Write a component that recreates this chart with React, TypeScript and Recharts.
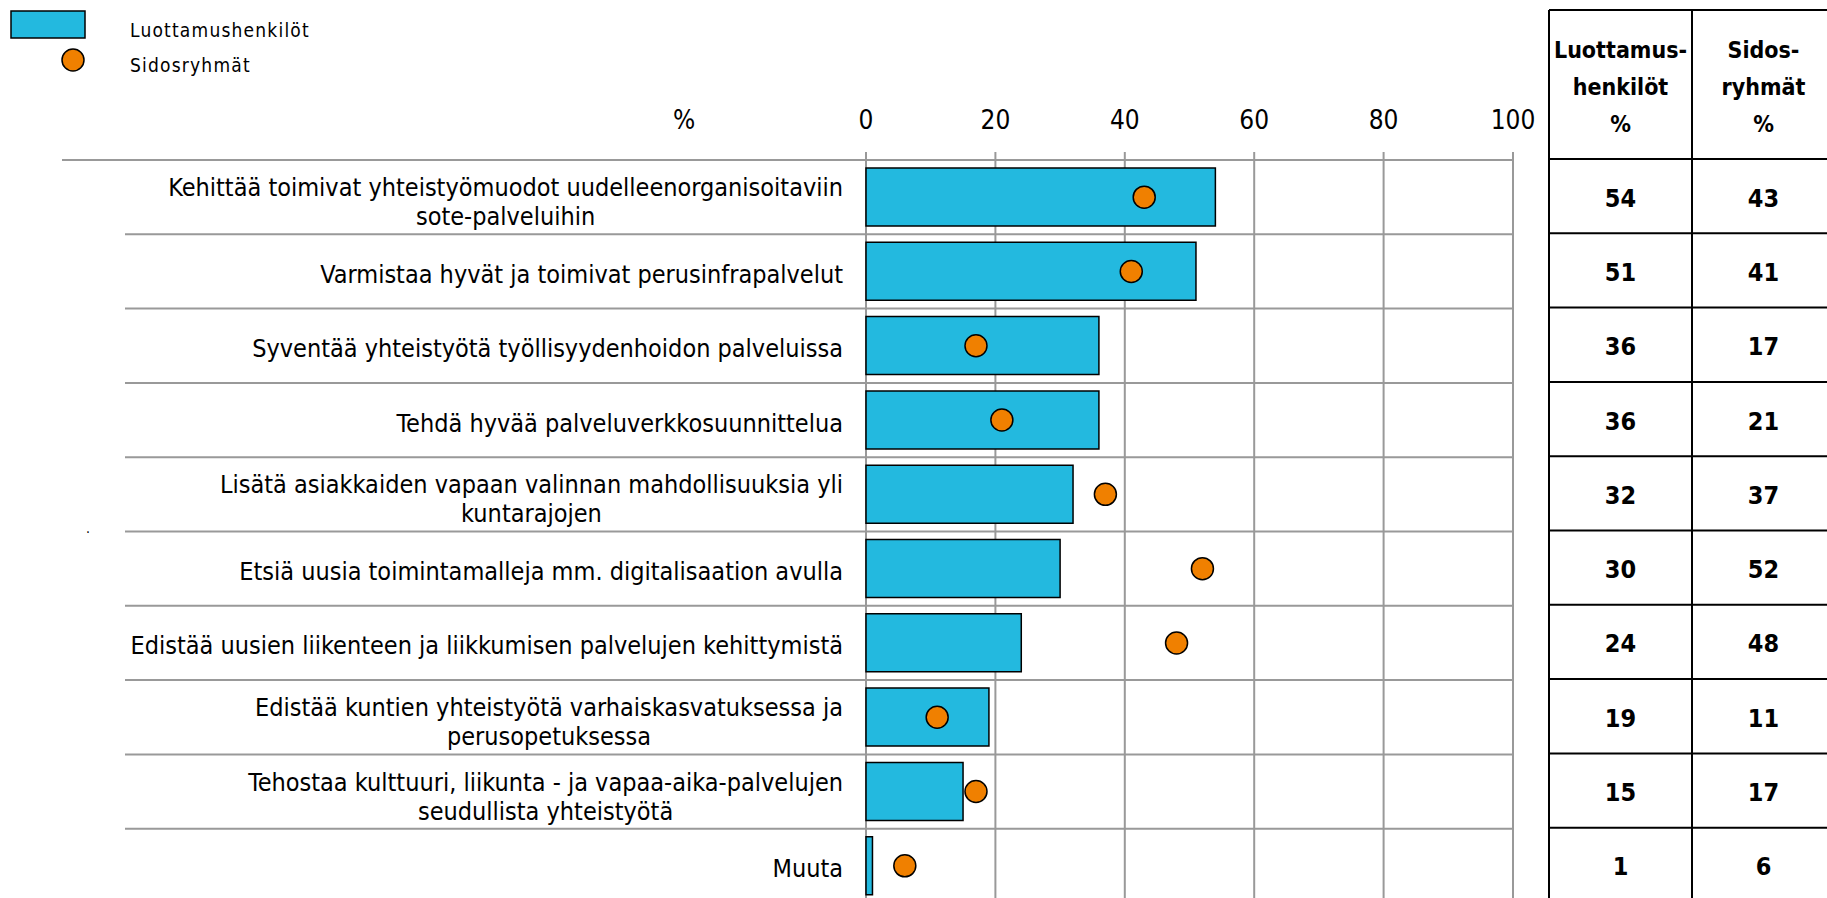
import { Bar, CartesianGrid, ComposedChart, Legend, Line, XAxis, YAxis } from 'recharts';

const categories = [
	'Kehittää toimivat yhteistyömuodot uudelleenorganisoitaviin\nsote-palveluihin',
	'Varmistaa hyvät ja toimivat perusinfrapalvelut',
	'Syventää yhteistyötä työllisyydenhoidon palveluissa',
	'Tehdä hyvää palveluverkkosuunnittelua',
	'Lisätä asiakkaiden vapaan valinnan mahdollisuuksia yli\nkuntarajojen',
	'Etsiä uusia toimintamalleja mm. digitalisaation avulla',
	'Edistää uusien liikenteen ja liikkumisen palvelujen kehittymistä',
	'Edistää kuntien yhteistyötä varhaiskasvatuksessa ja\nperusopetuksessa',
	'Tehostaa kulttuuri, liikunta - ja vapaa-aika-palvelujen\nseudullista yhteistyötä',
	'Muuta',
];
const luottamus = [54, 51, 36, 36, 32, 30, 24, 19, 15, 1];
const sidos = [43, 41, 17, 21, 37, 52, 48, 11, 17, 6];
const xTicks = [0, 20, 40, 60, 80, 100];
const seriesNames = ['Luottamushenkilöt', 'Sidosryhmät'];
const tableHeaders = [
	['Luottamus-', 'henkilöt', '%'],
	['Sidos-', 'ryhmät', '%'],
];

const data = categories.map((name, i) => ({ name, luottamus: luottamus[i], sidos: sidos[i] }));

const W = 1827;
const H = 898;
const PLOT_LEFT = 866;
const PLOT_RIGHT = 1513;
const PLOT_TOP = 160;
const ROW_H = 74.3;
const PLOT_H = ROW_H * categories.length;
const LABEL_RIGHT = 843;
const FONT = "'Liberation Sans Narrow', 'DejaVu Sans Condensed', 'Open Sans', sans-serif";
const LABEL_SIZE = 25;
const TICK_SIZE = 26;
const GRID = '#999999';
const BLUE = '#23B9DF';
const ORANGE = '#F08000';

// table columns
const T_LEFT = 1549;
const T_MID = 1692;
const T_RIGHT = 1835;
const T_TOP = 10;

let ctx: CanvasRenderingContext2D | null = null;
const measure = (t: string) => {
	if (!ctx) ctx = document.createElement('canvas').getContext('2d');
	if (!ctx) return t.length * LABEL_SIZE * 0.45;
	ctx.font = `${LABEL_SIZE}px ${FONT}`;
	return ctx.measureText(t).width;
};

const CategoryTick = (props: any) => {
	const { y, payload, index } = props;
	const lines: string[] = String(payload.value).split('\n');
	const block = Math.max(...lines.map(measure));
	const cx = LABEL_RIGHT - block / 2;
	const top = y - ROW_H / 2;
	const shift = lines.length > 1 ? 5 : 3;
	return (
		<g>
			<line x1={index === 0 ? 62 : 125} x2={PLOT_LEFT} y1={top} y2={top} stroke={GRID} strokeWidth={2} />
			{lines.map((l, i) => (
				<text
					key={i}
					x={lines.length > 1 ? cx : LABEL_RIGHT}
					y={y + shift + (i - (lines.length - 1) / 2) * 29}
					textAnchor={lines.length > 1 ? 'middle' : 'end'}
					dominantBaseline='central'
					fontSize={LABEL_SIZE}
					fontFamily={FONT}
					fill='#000'
				>
					{l}
				</text>
			))}
		</g>
	);
};

const LegendContent = ({ payload }: any) => (
	<svg width={330} height={90} style={{ display: 'block' }}>
		{(payload ?? []).map((p: any, i: number) => (
			<g key={p.value}>
				{i === 0 ? (
					<rect x={11} y={11} width={74} height={27} fill={BLUE} stroke='#000' strokeWidth={1.5} />
				) : (
					<circle cx={73} cy={60} r={11} fill={ORANGE} stroke='#000' strokeWidth={1.5} />
				)}
				<text x={130} y={37 + i * 35} fontSize={19} letterSpacing={1.2} fontFamily={FONT} fill='#000'>
					{p.value}
				</text>
			</g>
		))}
	</svg>
);

export default function App() {
	return (
		<div
			style={{
				position: 'absolute',
				left: 0,
				top: 0,
				width: W,
				height: H,
				overflow: 'hidden',
				background: '#fff',
				fontFamily: FONT,
			}}
		>
			<ComposedChart
				width={W}
				height={PLOT_TOP + PLOT_H}
				data={data}
				layout='vertical'
				margin={{ top: 0, right: W - PLOT_RIGHT, left: 0, bottom: 0 }}
			>
				<CartesianGrid
					stroke={GRID}
					strokeWidth={2}
					horizontalCoordinatesGenerator={({ offset }: any) =>
						categories.map((_, i) => offset.top + (i * offset.height) / categories.length)
					}
				/>
				<XAxis
					type='number'
					orientation='top'
					domain={[0, 100]}
					ticks={xTicks}
					height={PLOT_TOP}
					axisLine={false}
					tickLine={{ stroke: GRID, strokeWidth: 2 }}
					tickSize={8}
					tickMargin={23}
					tick={{ fill: '#000', fontSize: TICK_SIZE, fontFamily: FONT }}
				/>
				<YAxis
					type='category'
					dataKey='name'
					width={PLOT_LEFT}
					axisLine={false}
					tickLine={false}
					interval={0}
					tick={<CategoryTick />}
				/>
				<Legend
					layout='horizontal'
					verticalAlign='middle'
					align='center'
					wrapperStyle={{ top: 0, left: 0, width: 330, height: 90 }}
					content={<LegendContent />}
				/>
				<Bar
					dataKey='luottamus'
					name={seriesNames[0]}
					fill={BLUE}
					stroke='#000'
					strokeWidth={1.5}
					barSize={58}
					isAnimationActive={false}
				/>
				<Line
					dataKey='sidos'
					name={seriesNames[1]}
					stroke='none'
					dot={{ r: 11, fill: ORANGE, stroke: '#000', strokeWidth: 1.5 }}
					activeDot={false}
					isAnimationActive={false}
				/>
			</ComposedChart>

			{/* axis unit, stray dot and the value table on the right */}
			<svg width={W} height={H} style={{ position: 'absolute', left: 0, top: 0, pointerEvents: 'none' }}>
				<text x={684} y={120} textAnchor='middle' dominantBaseline='central' fontSize={TICK_SIZE} fontFamily={FONT}>
					%
				</text>
				<text x={86} y={533} fontSize={14} fontFamily={FONT}>
					.
				</text>

				<line x1={T_LEFT} x2={T_RIGHT} y1={T_TOP} y2={T_TOP} stroke='#000' strokeWidth={2} />
				<line x1={T_LEFT} x2={T_LEFT} y1={T_TOP} y2={H} stroke='#000' strokeWidth={2} />
				<line x1={T_MID} x2={T_MID} y1={T_TOP} y2={H} stroke='#000' strokeWidth={2} />
				{categories.map((_, i) => (
					<line
						key={i}
						x1={T_LEFT}
						x2={T_RIGHT}
						y1={PLOT_TOP - 1 + i * ROW_H}
						y2={PLOT_TOP - 1 + i * ROW_H}
						stroke='#000'
						strokeWidth={2}
					/>
				))}
				{tableHeaders.map((col, c) =>
					col.map((t, r) => (
						<text
							key={`${c}-${r}`}
							x={c === 0 ? (T_LEFT + T_MID) / 2 : (T_MID + T_RIGHT) / 2}
							y={50 + r * 37}
							textAnchor='middle'
							dominantBaseline='central'
							fontSize={23}
							fontWeight='bold'
							fontFamily={FONT}
						>
							{t}
						</text>
					))
				)}
				{[luottamus, sidos].map((vals, c) =>
					vals.map((v, i) => (
						<text
							key={`v${c}-${i}`}
							x={c === 0 ? (T_LEFT + T_MID) / 2 : (T_MID + T_RIGHT) / 2}
							y={PLOT_TOP + (i + 0.5) * ROW_H + 1}
							textAnchor='middle'
							dominantBaseline='central'
							fontSize={25}
							fontWeight='bold'
							fontFamily={FONT}
						>
							{v}
						</text>
					))
				)}
			</svg>
		</div>
	);
}
